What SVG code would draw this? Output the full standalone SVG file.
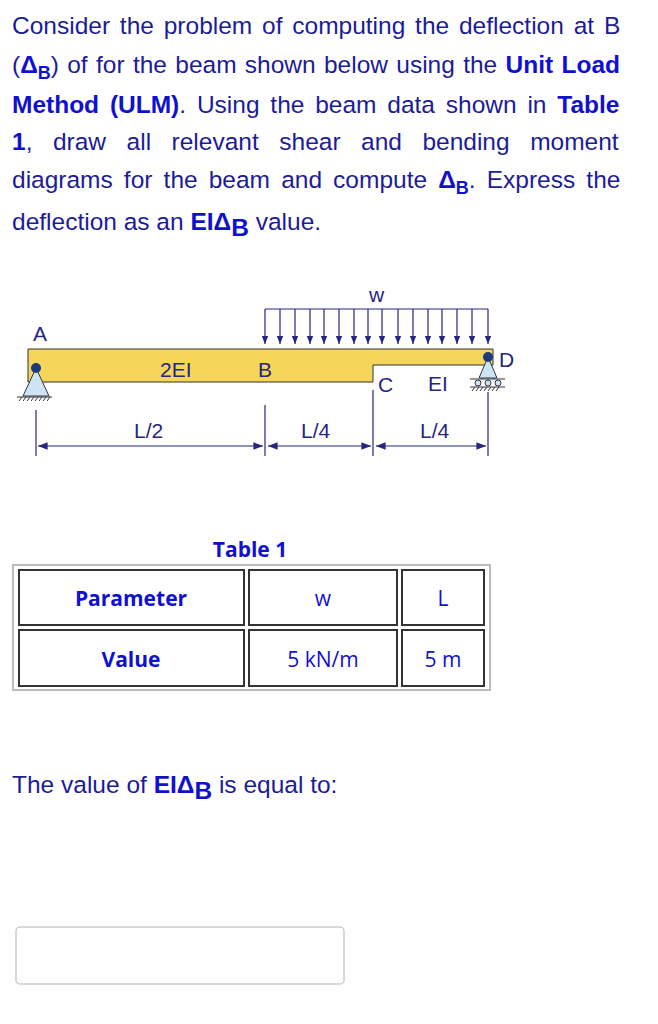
<svg xmlns="http://www.w3.org/2000/svg" width="658" height="1024" viewBox="0 0 658 1024">
<style>
.t{font-family:"Liberation Sans",Arial,sans-serif;font-size:24.5px;fill:#1c1c96}
.b{font-weight:bold;fill:#1010d0}
.lb{font-family:"Liberation Sans",Arial,sans-serif;font-size:21px;fill:#262680}
.tb{font-family:"Open Sans","Noto Sans",sans-serif;font-size:21px;fill:#1010d0}
.dim{stroke:#262680;stroke-width:1.2;fill:none}
.cell{fill:#fff;stroke:#333;stroke-width:2}
</style>
<defs>
<marker id="ar" viewBox="0 0 10 10" refX="10" refY="5" markerWidth="8" markerHeight="8" orient="auto-start-reverse"><path d="M0,1 L10,5 L0,9 z" fill="#262680"/></marker>
<marker id="ld" viewBox="0 0 10 10" refX="10" refY="5" markerWidth="7" markerHeight="7" orient="auto"><path d="M0,1 L10,5 L0,9 z" fill="#262680"/></marker>
</defs>
<rect width="658" height="1024" fill="#fff"/>
<g id="text">
<text class="t" x="12" y="34" word-spacing="3">Consider the problem of computing the deflection at B</text>
<text class="t" x="12" y="73" word-spacing="1.5">(<tspan class="b">Δ</tspan><tspan class="b" font-size="18" dy="6">B</tspan><tspan dy="-6">) of for the beam shown below using the </tspan><tspan class="b">Unit Load</tspan></text>
<text class="t" x="12" y="113" word-spacing="4"><tspan class="b">Method (ULM)</tspan>.  Using the beam data shown in <tspan class="b">Table</tspan></text>
<text class="t" x="12" y="150" word-spacing="13.7"><tspan class="b">1</tspan>, draw all relevant shear and bending moment</text>
<text class="t" x="12" y="188" word-spacing="4.3">diagrams for the beam and compute <tspan class="b">Δ</tspan><tspan class="b" font-size="18" dy="6">B</tspan><tspan dy="-6">. Express the</tspan></text>
<text class="t" x="12" y="230">deflection as an <tspan class="b">EIΔ</tspan><tspan class="b" dy="6">B</tspan><tspan dy="-6"> value.</tspan></text>
<text class="t" x="12" y="793">The value of <tspan class="b">EIΔ</tspan><tspan class="b" dy="6">B</tspan><tspan dy="-6"> is equal to:</tspan></text>
</g>
<g id="beam">
<path d="M28,349 H493 V365 H373 V382 H28 Z" fill="#f5d55a" stroke="#333" stroke-width="1"/>
<text class="lb" x="160" y="377">2EI</text>
<text class="lb" x="258" y="377">B</text>
<text class="lb" x="378" y="392">C</text>
<text class="lb" x="428" y="391">EI</text>
<text class="lb" x="33" y="341">A</text>
<text class="lb" x="499" y="367">D</text>
<text class="lb" x="369" y="302" font-size="19">w</text>
</g>
<g id="supportA">
<path d="M36,368 L23,396 H49 Z" fill="#cce4f4" stroke="#334" stroke-width="1"/>
<circle cx="36" cy="368" r="5" fill="#1c3a80"/>
<line x1="17" y1="397" x2="52" y2="397" stroke="#333"/>
<path d="M19,401 l3,-4 M23,401 l3,-4 M27,401 l3,-4 M31,401 l3,-4 M35,401 l3,-4 M39,401 l3,-4 M43,401 l3,-4 M47,401 l3,-4" stroke="#333"/>
</g>
<g id="supportD">
<path d="M488,357 L479,378 H497 Z" fill="#cce4f4" stroke="#334" stroke-width="1"/>
<circle cx="488" cy="357" r="5" fill="#1c3a80"/>
<circle cx="478" cy="383" r="3" fill="#cce4f4" stroke="#334"/>
<circle cx="488" cy="383" r="3" fill="#cce4f4" stroke="#334"/>
<circle cx="498" cy="383" r="3" fill="#cce4f4" stroke="#334"/>
<line x1="470" y1="379" x2="505" y2="379" stroke="#333"/>
<line x1="470" y1="387" x2="505" y2="387" stroke="#333"/>
<path d="M472,391 l3,-4 M476,391 l3,-4 M480,391 l3,-4 M484,391 l3,-4 M488,391 l3,-4 M492,391 l3,-4 M496,391 l3,-4" stroke="#333"/>
</g>
<g id="connectors">
<line class="dim" x1="265" y1="309" x2="488" y2="309"/>
<g class="dim" marker-end="url(#ld)">
<line x1="265" y1="309" x2="265" y2="344"/><line x1="280" y1="309" x2="280" y2="344"/>
<line x1="295" y1="309" x2="295" y2="344"/><line x1="310" y1="309" x2="310" y2="344"/>
<line x1="324" y1="309" x2="324" y2="344"/><line x1="339" y1="309" x2="339" y2="344"/>
<line x1="354" y1="309" x2="354" y2="344"/><line x1="368" y1="309" x2="368" y2="344"/>
<line x1="382" y1="309" x2="382" y2="344"/><line x1="398" y1="309" x2="398" y2="344"/>
<line x1="413" y1="309" x2="413" y2="344"/><line x1="428" y1="309" x2="428" y2="344"/>
<line x1="442" y1="309" x2="442" y2="344"/><line x1="457" y1="309" x2="457" y2="344"/>
<line x1="472" y1="309" x2="472" y2="344"/><line x1="488" y1="309" x2="488" y2="344"/>
</g>
<line class="dim" x1="36" y1="410" x2="36" y2="456"/>
<line class="dim" x1="265" y1="405" x2="265" y2="456"/>
<line class="dim" x1="373" y1="390" x2="373" y2="456"/>
<line class="dim" x1="488" y1="392" x2="488" y2="456"/>
<line class="dim" x1="38" y1="446" x2="263" y2="446" marker-start="url(#ar)" marker-end="url(#ar)"/>
<line class="dim" x1="268" y1="446" x2="371" y2="446" marker-start="url(#ar)" marker-end="url(#ar)"/>
<line class="dim" x1="376" y1="446" x2="486" y2="446" marker-start="url(#ar)" marker-end="url(#ar)"/>
<text class="lb" x="134" y="438">L/2</text>
<text class="lb" x="301" y="438">L/4</text>
<text class="lb" x="420" y="438">L/4</text>
</g>
<g id="table">
<text class="tb" x="250" y="557" font-weight="bold" text-anchor="middle">Table 1</text>
<rect x="13" y="565" width="477" height="125" fill="#fff" stroke="#bbb" stroke-width="2"/>
<rect class="cell" x="19" y="570" width="225" height="55"/>
<rect class="cell" x="249" y="570" width="148" height="55"/>
<rect class="cell" x="402" y="570" width="82" height="55"/>
<rect class="cell" x="19" y="630" width="225" height="56"/>
<rect class="cell" x="249" y="630" width="148" height="56"/>
<rect class="cell" x="402" y="630" width="82" height="56"/>
<text class="tb" x="131" y="606" font-weight="bold" text-anchor="middle">Parameter</text>
<text class="tb" x="323" y="606" text-anchor="middle">w</text>
<text class="tb" x="443" y="606" text-anchor="middle">L</text>
<text class="tb" x="131" y="667" font-weight="bold" text-anchor="middle">Value</text>
<text class="tb" x="323" y="667" text-anchor="middle">5 kN/m</text>
<text class="tb" x="443" y="667" text-anchor="middle">5 m</text>
</g>
<g id="answer">
<rect x="16" y="927" width="328" height="57" rx="4" fill="#fff" stroke="#ccc" stroke-width="1.5"/>
</g>
</svg>
